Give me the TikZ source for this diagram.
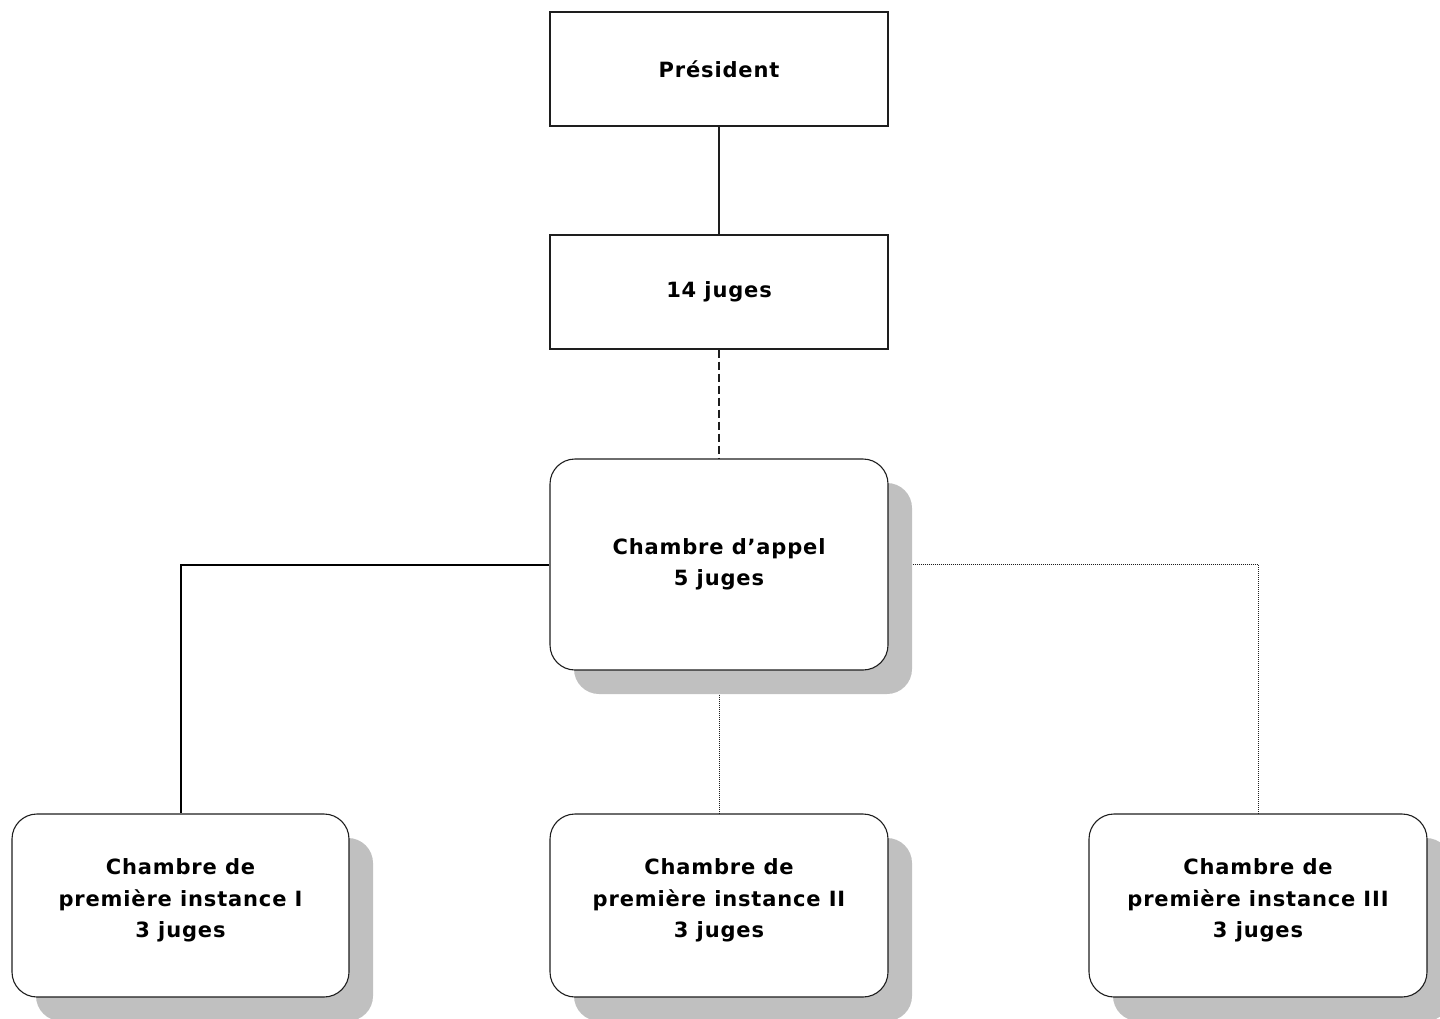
\documentclass[tikz,border=0pt]{standalone}
\usepackage{fontspec}
\setmainfont{DejaVu Sans}[LetterSpace=4]
\usetikzlibrary{shadows}
\definecolor{shadowgray}{RGB}{192,192,192}
\definecolor{linegray}{RGB}{30,30,30}
\begin{document}
\begin{tikzpicture}[x=1pt,y=-1pt,
  box/.style={draw=linegray, line width=1.1pt, fill=white, minimum width=338pt, minimum height=114pt,
    inner sep=0pt, align=center, font=\fontsize{21}{31.5}\selectfont\bfseries},
  rbox/.style={box, rounded corners=25pt,
    general shadow={fill=shadowgray, shadow xshift=24pt, shadow yshift=-24pt}},
  solidlink/.style={draw=black, line width=2pt},
  dashlink/.style={draw=linegray, line width=1.1pt, dash pattern=on 8pt off 4pt},
  dotlink/.style={draw=linegray, line width=1pt, dash pattern=on 1pt off 1pt},
]
\useasboundingbox (0,0) rectangle (1440,1018);
\node[box] (pres) at (719,69) {Président};
\node[box] (juges) at (719,292) {14 juges};
\node[rbox, minimum height=211pt] (appel) at (719,564.5) {Chambre d’appel\\5 juges};
\node[rbox, minimum height=183pt, minimum width=337pt, text depth=14pt] (c1) at (180.5,905.5) {Chambre de\\première instance I\\3 juges};
\node[rbox, minimum height=183pt, text depth=14pt] (c2) at (719,905.5) {Chambre de\\première instance II\\3 juges};
\node[rbox, minimum height=183pt, text depth=14pt] (c3) at (1258,905.5) {Chambre de\\première instance III\\3 juges};
\coordinate (appelR) at ([xshift=24pt]appel.east);
\coordinate (appelB) at ([yshift=-24pt]appel.south);
\draw[draw=linegray, line width=1.3pt] (pres.south) -- (juges.north);
\draw[dashlink] (juges.south) -- (appel.north);
\draw[solidlink] (appel.west) -| (c1.north);
\draw[dotlink] (appelR) -| (c3.north);
\draw[dotlink] (appelB) -- (c2.north);
\end{tikzpicture}
\end{document}
